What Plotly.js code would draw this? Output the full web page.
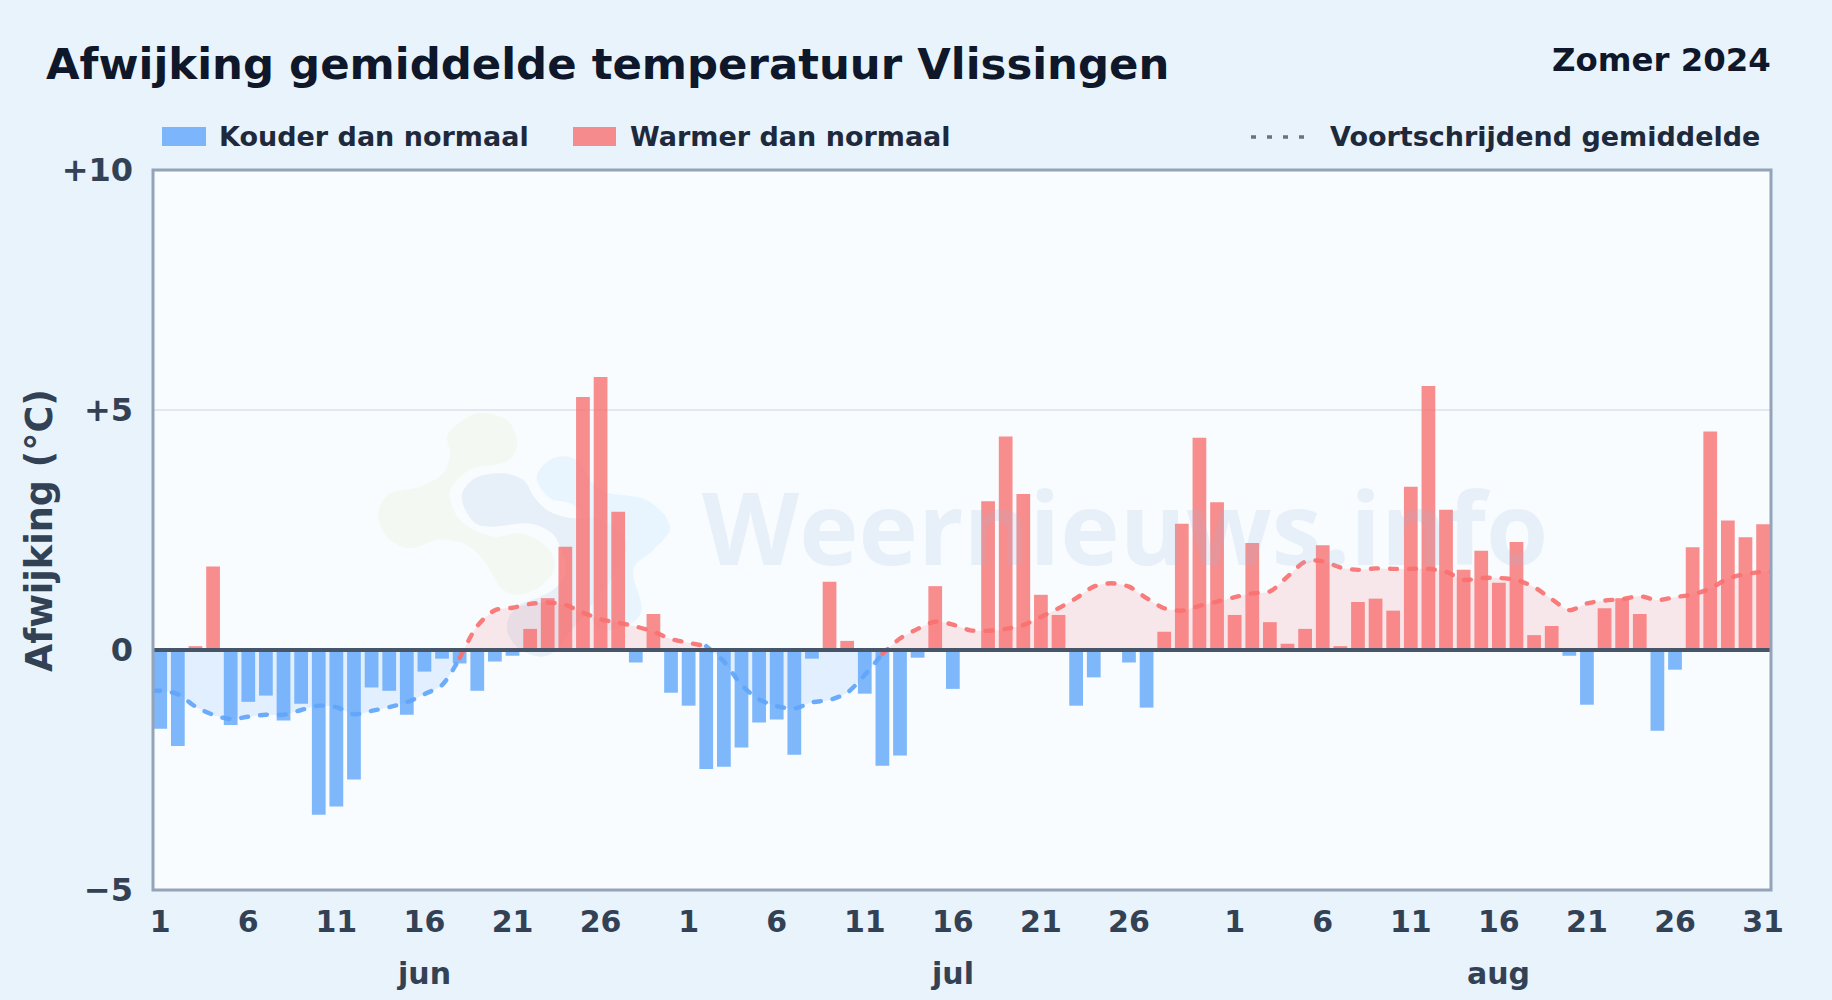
<!DOCTYPE html>
<html>
<head>
<meta charset="utf-8">
<script src="https://cdn.plot.ly/plotly-3.0.1.min.js"></script>
<style>html,body{margin:0;padding:0;background:#e8f3fc;}#chart{width:1832px;height:1000px;}
.scatterlayer .js-line{stroke-linecap:round;}</style>
</head>
<body>
<div id="chart"></div>
<script>
// ---- data ----
const juneDeviation = [-1.64,-2.0,0.08,1.74,-1.56,-1.08,-0.95,-1.47,-1.12,-3.43,-3.26,-2.70,-0.78,-0.85,-1.35,-0.45,-0.18,-0.28,-0.85,-0.24,-0.12,0.44,1.08,2.15,5.27,5.69,2.88,-0.26,0.75,-0.89];
const julyDeviation = [-1.16,-2.48,-2.43,-2.03,-1.51,-1.45,-2.18,-0.18,1.42,0.19,-0.91,-2.41,-2.20,-0.16,1.33,-0.81,0,3.10,4.45,3.25,1.15,0.73,-1.16,-0.57,0,-0.26,-1.20,0.38,2.63,4.42,3.08];
const augustDeviation = [0.73,2.23,0.58,0.13,0.44,2.18,0.08,1.0,1.07,0.82,3.40,5.50,2.92,1.67,2.07,1.40,2.25,0.31,0.50,-0.12,-1.14,0.87,1.08,0.75,-1.68,-0.41,2.14,4.55,2.70,2.35,2.62];
const runningMean = [-0.85,-0.92,-1.18,-1.35,-1.44,-1.39,-1.35,-1.35,-1.25,-1.16,-1.19,-1.34,-1.27,-1.19,-1.09,-0.92,-0.73,-0.17,0.50,0.83,0.88,0.96,0.99,0.94,0.78,0.64,0.57,0.49,0.38,0.23,0.15,0.08,-0.24,-0.73,-1.03,-1.17,-1.22,-1.09,-1.04,-0.89,-0.52,-0.08,0.24,0.44,0.59,0.53,0.41,0.40,0.44,0.52,0.69,0.87,1.08,1.32,1.39,1.32,1.08,0.87,0.82,0.92,1.01,1.10,1.18,1.22,1.53,1.84,1.85,1.72,1.67,1.70,1.69,1.69,1.69,1.63,1.46,1.50,1.50,1.46,1.31,1.06,0.83,0.97,1.03,1.06,1.12,1.04,1.10,1.16,1.28,1.49,1.58,1.63];
const tickDays = [0,5,10,15,20,25,30,35,40,45,50,55,61,66,71,76,81,86,91];
const tickLabels = ['1','6','11','16','21','26','1','6','11','16','21','26','1','6','11','16','21','26','31'];
const monthNames = ['jun','jul','aug'];
const monthDays = [15,45,76];
const yTicks = [-5,0,5,10];
const yTickLabels = ['−5','0','+5','+10'];
const legendLabels = ['Kouder dan normaal','Warmer dan normaal','Voortschrijdend gemiddelde'];

// ---- geometry and styles ----
const FONT = '"DejaVu Sans", sans-serif';
const L = 153, R = 1771, T = 170, B = 890, W = 1832, H = 1000;
const X0 = -0.41, X1 = 91.45;
const fx = p => (p - L) / (R - L), fy = p => 1 - (p - T) / (B - T);
const BLUE = '#60a5fa', RED = '#f87171';

const values = [...juneDeviation, ...julyDeviation, ...augustDeviation];
const days = values.map((_, i) => i);
const cold = days.filter(i => values[i] < 0);
const warm = days.filter(i => values[i] > 0);

// Running mean runs: each run of one sign starts at the last point of the previous run
const runs = [];
runningMean.forEach((v, i) => {
  const pos = v >= 0;
  const last = runs[runs.length - 1];
  if (!last || last.pos !== pos) {
    const start = i > 0 ? [i - 1] : [];
    runs.push({pos, idx: [...start, i]});
  } else last.idx.push(i);
});
const lastDay = runningMean.length - 1;
const runX = r => { const x = r.idx.slice(); if (x[0] === 0) x.unshift(X0); if (x[x.length-1] === lastDay) x.push(X1); return x; };
const runY = r => runX(r).map(x => runningMean[Math.min(lastDay, Math.max(0, Math.round(x)))]);

const traces = [];
runs.forEach(r => traces.push({
  type:'scatter', mode:'none', x:runX(r), y:runY(r), xaxis:'x', yaxis:'y',
  fill:'tozeroy', fillcolor: r.pos ? 'rgba(248,113,113,0.15)' : 'rgba(96,165,250,0.15)',
  line:{shape:'spline', smoothing:0.8, width:0}, hoverinfo:'skip', showlegend:false
}));
traces.push({type:'bar', x:cold, y:cold.map(i=>values[i]), width:0.78, xaxis:'x', yaxis:'y2',
  marker:{color:'rgba(96,165,250,0.8)', line:{width:0}}, name:legendLabels[0], showlegend:false});
traces.push({type:'bar', x:warm, y:warm.map(i=>values[i]), width:0.78, xaxis:'x', yaxis:'y2',
  marker:{color:'rgba(248,113,113,0.8)', line:{width:0}}, name:legendLabels[1], showlegend:false});
runs.forEach(r => traces.push({
  type:'scatter', mode:'lines', x:runX(r), y:runY(r), xaxis:'x', yaxis:'y2', opacity:0.92,
  line:{shape:'spline', smoothing:0.8, width:4.4, dash:'7px,12px', color: r.pos ? RED : BLUE},
  hoverinfo:'skip', showlegend:false, name:legendLabels[2]
}));

// ---- faint logo watermark, outlines in page pixels ----
const toLogo = ([x, y]) => [fx(360 + x / 3), fy(390 + y / 3)];
function blob(points) {
  const p = points.map(toLogo), n = p.length;
  let d = `M ${p[0][0]} ${p[0][1]}`;
  for (let i = 0; i < n; i++) {
    const a = p[(i-1+n)%n], b = p[i], c = p[(i+1)%n], e = p[(i+2)%n];
    const c1 = [b[0] + (c[0]-a[0])/6, b[1] + (c[1]-a[1])/6];
    const c2 = [c[0] - (e[0]-b[0])/6, c[1] - (e[1]-b[1])/6];
    d += ` C ${c1[0]} ${c1[1]} ${c2[0]} ${c2[1]} ${c[0]} ${c[1]}`;
  }
  return d + ' Z';
}
const logoGreen = [[265,130],[350,70],[440,90],[472,160],[440,215],[340,235],[280,285],[272,335],[310,400],[400,440],[480,430],[560,470],[585,530],[540,590],[470,615],[420,590],[370,510],[310,460],[230,450],[150,475],[80,440],[55,370],[90,310],[180,290],[250,250],[270,190]];
const logoLight = [[530,260],[580,205],[650,210],[720,300],[860,330],[930,410],[880,480],[820,540],[845,660],[790,710],[700,700],[700,500],[650,355],[570,325]];
const logoDark = [[305,320],[345,265],[425,250],[490,270],[525,325],[570,365],[640,385],[700,385],[760,410],[800,470],[760,560],[700,640],[620,740],[590,780],[540,800],[470,770],[440,710],[470,650],[540,620],[590,590],[620,540],[600,470],[570,425],[500,400],[400,410],[340,395]];
const logoShape = (pts, color) => ({type:'path', xref:'paper', yref:'paper', path:blob(pts), fillcolor:color, line:{width:0}, layer:'below'});

const shapes = [
  logoShape(logoGreen,'#f3f9f2'), logoShape(logoLight,'#e9f5fe'), logoShape(logoDark,'#e7f0f9'),
  {type:'line', xref:'paper', yref:'y', x0:0, x1:1, y0:0, y1:0, line:{color:'#475569', width:4}, layer:'above'},
  {type:'rect', xref:'paper', yref:'paper', x0:0, x1:1, y0:0, y1:1, line:{color:'#94a3b8', width:3}, layer:'above'},
  {type:'rect', xref:'paper', yref:'paper', x0:fx(162), x1:fx(206), y0:fy(146), y1:fy(127), fillcolor:'rgba(96,165,250,0.8)', line:{width:0}},
  {type:'rect', xref:'paper', yref:'paper', x0:fx(573), x1:fx(616), y0:fy(146), y1:fy(127), fillcolor:'rgba(248,113,113,0.8)', line:{width:0}},
  {type:'line', xref:'paper', yref:'paper', x0:fx(1251), x1:fx(1309), y0:fy(137), y1:fy(137), line:{color:'#64748b', width:3.5, dash:'5px,11px'}}
];

const note = (text, x, y, size, color, anchor, extra) => Object.assign({
  text, xref:'paper', yref:'paper', x:fx(x), y:fy(y), xanchor:anchor, yanchor:'middle',
  showarrow:false, font:{family:FONT, size, color, weight:700}
}, extra || {});

const annotations = [
  note('Zomer 2024', 1773, 60, 32.4, '#0f172a', 'right'),
  note(legendLabels[0], 217, 137, 27, '#1e293b', 'left'),
  note(legendLabels[1], 628, 137, 27, '#1e293b', 'left'),
  note(legendLabels[2], 1328, 137, 27, '#1e293b', 'left'),
  note('Afwijking (°C)', 39, 531, 36.5, '#334155', 'center', {textangle:-90}),
  note('Weernieuws.info', 1125, 526, 100.5, 'rgba(150,185,220,0.17)', 'center',
       {font:{family:'"Open Sans", sans-serif', size:100.5, color:'rgba(150,185,220,0.17)', weight:700}}),
  ...monthNames.map((m, i) => ({text:m, xref:'x', yref:'paper', x:monthDays[i], y:fy(973), xanchor:'center', yanchor:'middle',
    showarrow:false, font:{family:FONT, size:30, color:'#334155', weight:700}}))
];

const layout = {
  width:W, height:H, autosize:false,
  paper_bgcolor:'#e8f3fc', plot_bgcolor:'#f8fcff',
  margin:{l:L, r:W-R, t:T, b:H-B, pad:0},
  showlegend:false, barmode:'overlay', hovermode:false,
  title:{text:'Afwijking gemiddelde temperatuur Vlissingen', xref:'container', yref:'container', x:46/W, xanchor:'left', y:1-64/H, yanchor:'middle',
    font:{family:FONT, size:43.4, color:'#0f172a', weight:700}},
  xaxis:{range:[X0,X1], tickmode:'array', tickvals:tickDays, ticktext:tickLabels, showgrid:false, zeroline:false, showline:false, ticks:'',
    tickfont:{family:FONT, size:30, color:'#334155', weight:700}, ticklabelstandoff:11, tickangle:0},
  yaxis:{range:[-5,10], tickmode:'array', tickvals:yTicks, ticktext:yTickLabels, showgrid:true, gridcolor:'#e2e8f0', gridwidth:2, zeroline:false, showline:false, ticks:'',
    tickfont:{family:FONT, size:32, color:'#334155', weight:700}, ticklabelstandoff:19},
  yaxis2:{range:[-5,10], overlaying:'y', visible:false, showgrid:false, zeroline:false},
  shapes, annotations
};
Plotly.newPlot('chart', traces, layout, {displayModeBar:false, staticPlot:true});
</script>
</body>
</html>
